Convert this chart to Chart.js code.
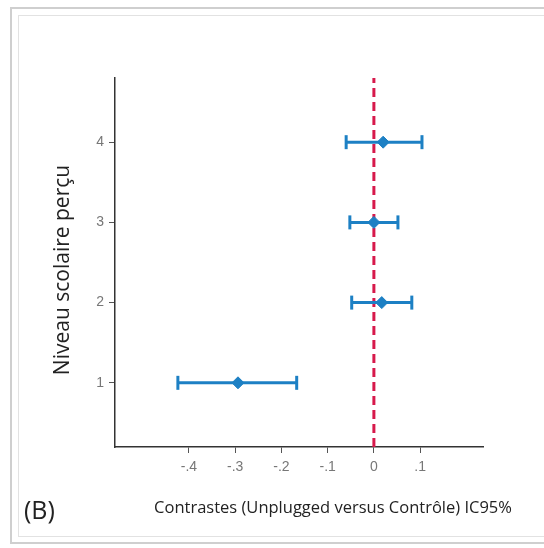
<!DOCTYPE html>
<html>
<head>
<meta charset="utf-8">
<script src="https://cdn.jsdelivr.net/npm/chart.js@4.4.1/dist/chart.umd.min.js"></script>
<style>
html, body { margin: 0; padding: 0; background: #fff; }
#wrap { position: relative; width: 544px; height: 548px; overflow: hidden; }
.frame { position: absolute; box-sizing: border-box; }
#outer { left: 10px; top: 7px; width: 560px; height: 537px; border: 2px solid #cfcfcf; }
#inner { left: 18px; top: 15px; width: 560px; height: 522px; border: 1px solid #e2e2e2; }
canvas { position: absolute; left: 0; top: 0; }
</style>
</head>
<body>
<div id="wrap">
<div class="frame" id="outer"></div>
<div class="frame" id="inner"></div>
<canvas id="forest" width="544" height="548"></canvas>
</div>

<script>
/* ==========================================
DATA
========================================== */

const levels = [1, 2, 3, 4];
const estimates = [-0.294, 0.017, 0.000, 0.020];
const lowerCI = [-0.424, -0.048, -0.052, -0.060];
const upperCI = [-0.167, 0.082, 0.052, 0.104];

const xTicks = [-0.4, -0.3, -0.2, -0.1, 0, 0.1];
const xTickLabels = ["-.4", "-.3", "-.2", "-.1", "0", ".1"];
const yTicks = [1, 2, 3, 4];

const xTitle = "Contrastes (Unplugged versus Contrôle) IC95%";
const yTitle = "Niveau scolaire perçu";
const panelLabel = "(B)";

const X_MIN = -0.56, X_MAX = 0.236;
const Y_MIN = 0.2, Y_MAX = 4.8;

const BLUE = "#1d80c4";
const RED = "#d7194b";


/* ==========================================
DATASETS
========================================== */

const datasets = [];

// reference line at zero
datasets.push({
type: "line",
data: [{x: 0, y: Y_MIN}, {x: 0, y: Y_MAX}],
borderColor: RED,
borderWidth: 3,
borderDash: [9, 5],
pointRadius: 0,
order: 3
});

// confidence intervals with end caps
levels.forEach((lvl, i) => {
datasets.push({
type: "line",
data: [{x: lowerCI[i], y: lvl}, {x: upperCI[i], y: lvl}],
borderColor: BLUE,
borderWidth: 3,
pointStyle: "line",
rotation: 90,
pointRadius: 7,
pointBorderWidth: 3,
pointBorderColor: BLUE,
order: 2
});
});

// point estimates
datasets.push({
type: "scatter",
data: levels.map((lvl, i) => ({x: estimates[i], y: lvl})),
pointStyle: "rectRot",
pointRadius: 6,
backgroundColor: BLUE,
borderColor: BLUE,
order: 1
});


/* ==========================================
CAPTIONS
========================================== */

const captions = {
id: "captions",
afterDraw(chart){
const ctx = chart.ctx;
ctx.save();
ctx.fillStyle = "#222";
ctx.textBaseline = "middle";

ctx.font = "16.5px 'Open Sans'";
ctx.textAlign = "center";
ctx.fillText(xTitle, 333, 508);

ctx.font = "25px 'Open Sans'";
ctx.textAlign = "left";
ctx.fillText(panelLabel, 24, 512);

ctx.translate(63, 270);
ctx.rotate(-Math.PI / 2);
ctx.font = "21px 'Open Sans'";
ctx.textAlign = "center";
ctx.fillText(yTitle, 0, 0);
ctx.restore();
}
};


/* ==========================================
CHART
========================================== */

new Chart(
document.getElementById("forest"),
{
data: { datasets: datasets },
plugins: [captions],
options: {
responsive: false,
animation: false,
layout: {
padding: { left: 0, top: 78, right: 61, bottom: 0 }
},
plugins: {
legend: { display: false },
tooltip: { enabled: false }
},
scales: {
x: {
type: "linear",
min: X_MIN,
max: X_MAX,
afterBuildTicks: s => { s.ticks = xTicks.map(v => ({value: v})); },
afterFit: s => { s.height = 101; },
ticks: {
color: "#777",
padding: 6,
font: { family: "'Liberation Sans'", size: 14 },
callback: (v, i) => xTickLabels[i]
},
grid: {
drawOnChartArea: false,
drawTicks: true,
tickLength: 6,
color: "#555"
},
border: { display: true, color: "#333", width: 1.5 }
},
y: {
type: "linear",
min: Y_MIN,
max: Y_MAX,
afterBuildTicks: s => { s.ticks = yTicks.map(v => ({value: v})); },
afterFit: s => { s.width = 115; },
ticks: {
color: "#777",
padding: 5,
font: { family: "'Liberation Sans'", size: 14 },
callback: v => String(v)
},
grid: {
drawOnChartArea: false,
drawTicks: true,
tickLength: 6,
color: "#555"
},
border: { display: true, color: "#333", width: 1.5 }
}
}
}
}
);
</script>
</body>
</html>
